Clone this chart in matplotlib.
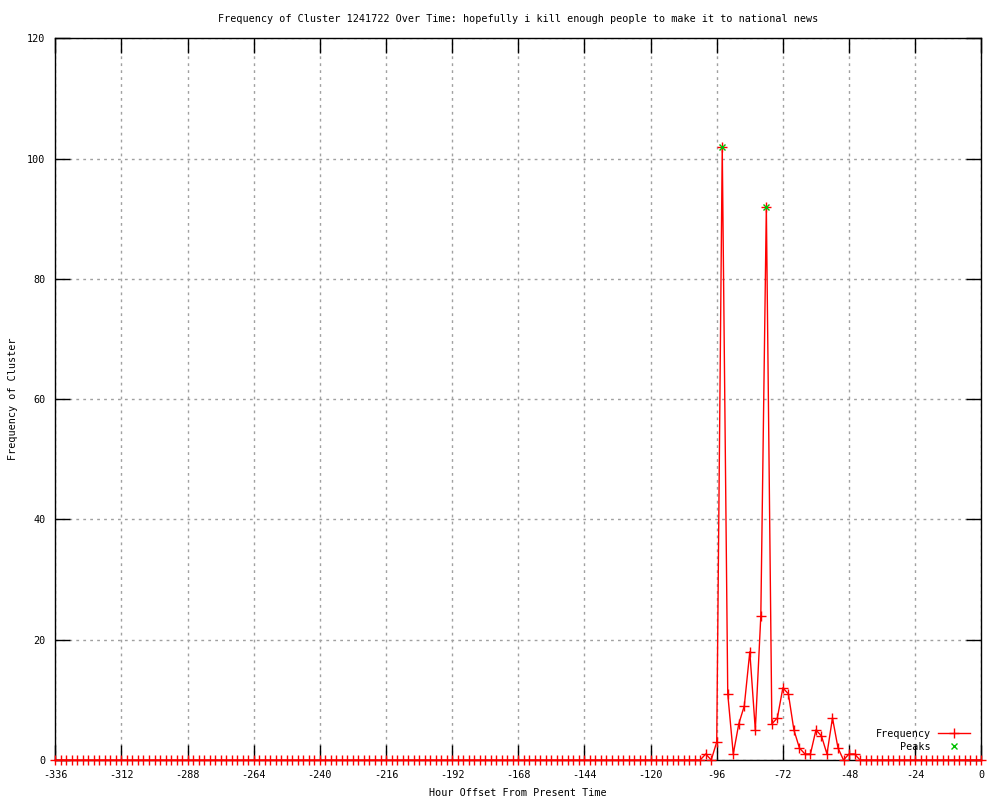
import matplotlib
matplotlib.use('Agg')
import matplotlib.pyplot as plt
import numpy as np

# hour offsets, one sample every 2 hours
hours = np.arange(-336, 1, 2)

# non-zero counts, every other hour is 0
nonzero_hours = [-100, -96, -94, -92, -90, -88, -86, -84, -82, -80, -78, -76, -74,
                 -72, -70, -68, -66, -64, -62, -60, -58, -56, -54, -52, -48, -46]
nonzero_counts = [1, 3, 102, 11, 1, 6, 9, 18, 5, 24, 92, 6, 7,
                  12, 11, 5, 2, 1, 1, 5, 4, 1, 7, 2, 1, 1]

peak_hours = [-94, -78]
peak_counts = [102, 92]

x_ticks = list(range(-336, 1, 24))
y_ticks = list(range(0, 121, 20))

counts = np.zeros(len(hours))
for h, c in zip(nonzero_hours, nonzero_counts):
    counts[hours == h] = c

font_size = 7.3
plt.rcParams['font.family'] = ['DejaVu Sans Mono']
plt.rcParams['font.size'] = font_size
plt.rcParams['axes.unicode_minus'] = False

figure = plt.figure(figsize=(10, 8), dpi=100)
axes = figure.add_axes([0.0553, 0.05, 0.926, 0.902])

axes.plot(hours, counts, color='red', linewidth=1.0, marker='+', markersize=7,
          markeredgewidth=1.0, label='Frequency', clip_on=False, zorder=3)
axes.plot(peak_hours, peak_counts, linestyle='none', marker='x', color='#00c000',
          markersize=5, markeredgewidth=1.0, label='Peaks', zorder=4)

axes.set_xlim(-336, 0)
axes.set_ylim(0, 120)
axes.set_xticks(x_ticks)
axes.set_yticks(y_ticks)
axes.tick_params(direction='in', length=11, width=1, top=True, right=True,
                 labelsize=font_size, pad=7, color='black')
axes.grid(True, color='#a0a0a0', linestyle=(0, (2, 3)), linewidth=1)
for spine in axes.spines.values():
    spine.set_linewidth(1)

axes.set_title('Frequency of Cluster 1241722 Over Time: hopefully i kill enough people to make it to national news',
               fontsize=font_size, pad=12)
axes.set_xlabel('Hour Offset From Present Time', va='center')
axes.set_ylabel('Frequency of Cluster', va='center')
axes.xaxis.set_label_coords(0.5, -0.046)
axes.yaxis.set_label_coords(-0.046, 0.5)

axes.legend(loc='lower right', frameon=False, markerfirst=False, handlelength=3.2,
            labelspacing=0.3, borderaxespad=0.7, handletextpad=0.7,
            bbox_to_anchor=(1.0, -0.004))

figure.savefig('out.png', dpi=100)
